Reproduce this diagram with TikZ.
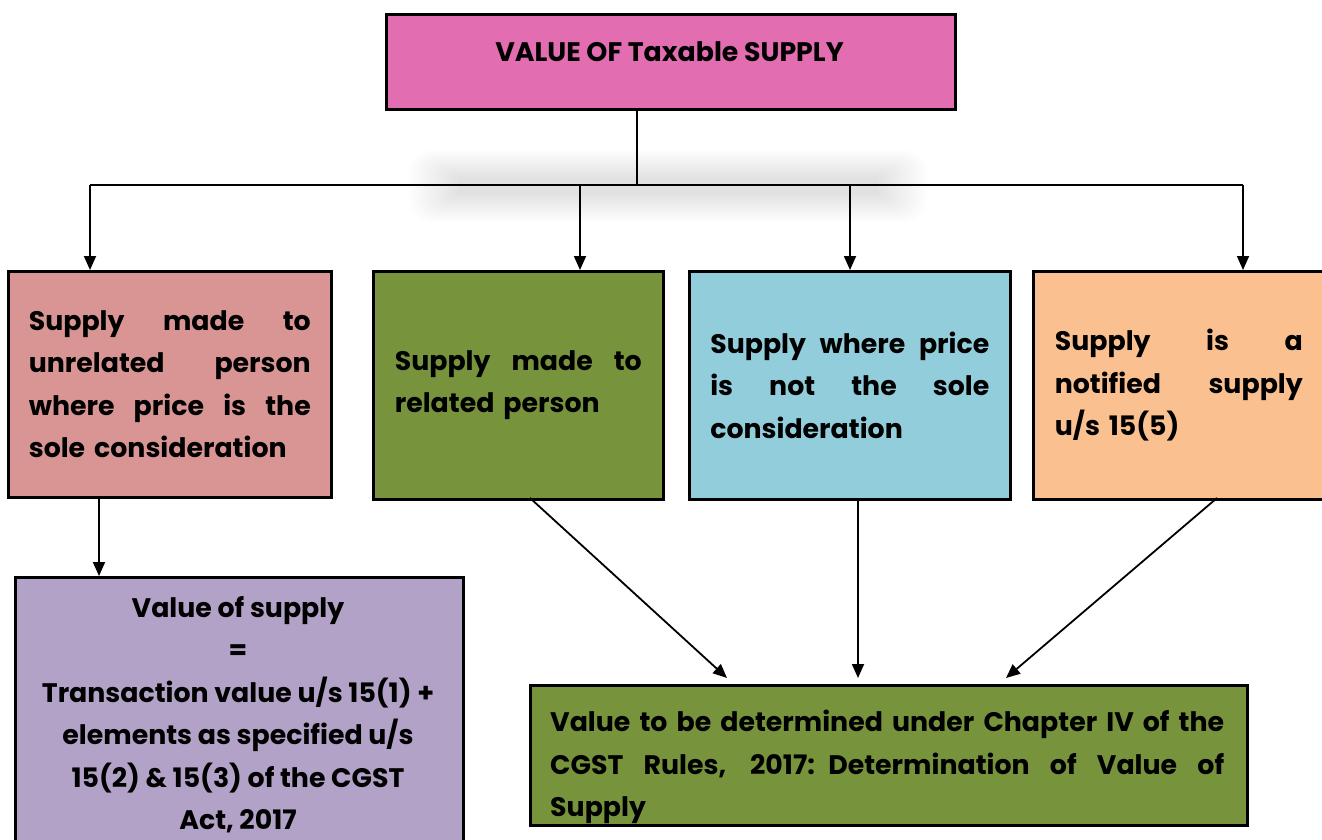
\documentclass[tikz,border=0pt]{standalone}
\usepackage{fontspec}
\setmainfont{Poppins}
\usetikzlibrary{arrows.meta}
\definecolor{cTop}{HTML}{E36DB1}
\definecolor{cRose}{HTML}{D99594}
\definecolor{cOlive}{HTML}{77933C}
\definecolor{cBlue}{HTML}{92CDDC}
\definecolor{cPeach}{HTML}{FAC090}
\definecolor{cLilac}{HTML}{B2A2C7}
\newcommand\fsz{\fontsize{26.8}{42.5}\selectfont\bfseries}
\newcommand\jline[2]{\makebox[#1][s]{\spaceskip=\fontdimen2\font plus 1fil minus .35\fontdimen2\font\relax #2}}
\begin{document}
\begin{tikzpicture}[x=1pt,y=-1pt,
  box/.style={draw=black, line width=2.6pt, inner sep=0pt, anchor=north west},
  txt/.style={font=\fsz, inner sep=0pt},
  conn/.style={line width=1.8pt},
  arr/.style={conn, -{Triangle[length=14pt,width=12pt]}},
  shade/.style={fill=black, opacity=0.008}]
\clip (0,0) rectangle (1322,840);
\fill[white] (0,0) rectangle (1322,840);
% soft shadow behind the distribution line
\foreach \k in {0,...,14}{
  \fill[shade, rounded corners=\k*1.6pt] (458-3.5*\k,178-2*\k) rectangle (878+3.5*\k,194+2*\k);
}
% top box
\node[box, fill=cTop, minimum width=569pt, minimum height=95pt] (b0) at (385,13) {};
\node[txt] (t0) at (669.5,52) {VALUE OF Taxable SUPPLY};
% four middle boxes
\node[box, txt, fill=cRose, minimum width=323pt, minimum height=226pt, text width=282pt, align=left] (b1) at (7,270)
  {\jline{282pt}{Supply made to}\\\jline{282pt}{unrelated person}\\\jline{282pt}{where price is the}\\sole consideration};
\node[box, txt, fill=cOlive, minimum width=290pt, minimum height=228pt, text width=247pt, align=left] (b2) at (372,270)
  {\jline{247pt}{Supply made to}\\related person};
\node[box, txt, fill=cBlue, minimum width=321pt, minimum height=228pt, text width=279pt, align=left] (b3) at (688,270)
  {\jline{279pt}{Supply where price}\\\jline{279pt}{is not the sole}\\consideration};
\node[box, txt, fill=cPeach, minimum width=291pt, minimum height=228pt, text width=248pt, align=left] (b4) at (1032,270)
  {\jline{248pt}{Supply is a}\\\jline{248pt}{notified supply}\\u/s 15(5)};
% bottom left box
\node[box, fill=cLilac, minimum width=448pt, minimum height=290pt] (b5) at (14,576) {};
\node[txt, anchor=north, align=center] (t5) at (238,596)
  {Value of supply\\=\\Transaction value u/s 15(1) +\\elements as specified u/s\\15(2) \& 15(3) of the CGST\\Act, 2017};
% bottom right box
\node[box, fill=cOlive, minimum width=717pt, minimum height=140pt] (b6) at (529,684) {};
\node[txt, anchor=north west, text width=674pt, align=left] (t6) at (550,710)
  {\jline{674pt}{Value to be determined under Chapter IV of the}\\\jline{674pt}{CGST Rules, 2017: Determination of Value of}\\Supply};
% connectors
\coordinate (j) at (637,185);
\coordinate (h1) at (90,185);
\coordinate (h2) at (580,185);
\coordinate (h3) at (850,185);
\coordinate (h4) at (1243,185);
\draw[conn] (b0.south -| j) -- (j);
\draw[conn] (h1) -- (h4);
\draw[arr] (h1) -- (h1 |- b1.north);
\draw[arr] (h2) -- (h2 |- b2.north);
\draw[arr] (h3) -- (h3 |- b3.north);
\draw[arr] (h4) -- (h4 |- b4.north);
\coordinate (d1) at (99,496);
\draw[arr] (d1) -- (d1 |- b5.north);
\coordinate (s2) at (530,498);
\coordinate (e2) at (727,678);
\coordinate (s3) at (858,498);
\coordinate (e3) at (858,678);
\coordinate (s4) at (1217,498);
\coordinate (e4) at (1006,678);
\draw[arr] (s2) -- (e2);
\draw[arr] (s3) -- (e3);
\draw[arr] (s4) -- (e4);
\end{tikzpicture}
\end{document}
